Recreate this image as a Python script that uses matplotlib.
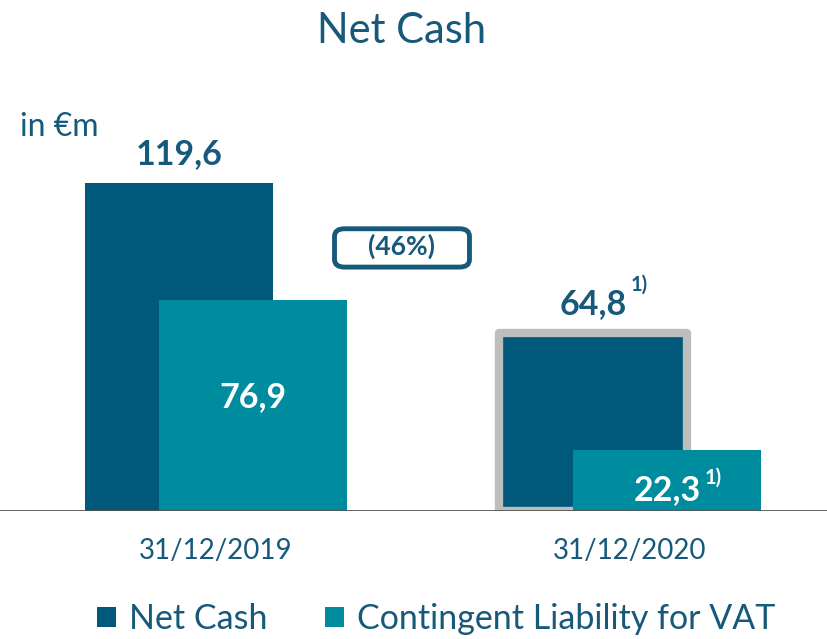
import matplotlib.pyplot as plt
from matplotlib.patches import FancyBboxPatch

plt.rcParams['font.family'] = ['Lato', 'DejaVu Sans']

# data
dates = ['31/12/2019', '31/12/2020']
net_cash = [119.6, 64.8]
vat_liability = [76.9, 22.3]
net_labels = ['119,6', '64,8']
vat_labels = ['76,9', '22,3']
footnote = ['', '1)']
change_label = '(46%)'

dark = '#00587A'
teal = '#008C9F'
text_col = '#17597A'

fig = plt.figure(figsize=(8.28, 6.39), dpi=100)
ax = fig.add_axes([0, 0.2003, 1, 0.6432])

x = [0, 1]
off = 0.0894
w = 0.454

bars1 = ax.bar([i - off for i in x], net_cash, width=w, color=dark, zorder=2,
               label='Net Cash')
bars2 = ax.bar([i + off for i in x], vat_liability, width=w, color=teal, zorder=3,
               label='Contingent Liability for VAT')
# gray frame on the 2020 net cash bar
bars1[1].set_edgecolor('#BDBDBD')
bars1[1].set_linewidth(6)
bars1[1].set_joinstyle('round')

ax.set_xlim(-0.5217, 1.478)
ax.set_ylim(0, 150)
ax.axis('off')
ax.axhline(0, color='#555555', lw=2, zorder=4)

# value labels
for i in x:
    t = ax.text(i - off, net_cash[i] + 7, net_labels[i], ha='center', va='baseline',
                fontsize=24.5, fontweight='bold', color=text_col)
    if footnote[i]:
        ax.annotate(footnote[i], xy=(1, 1), xycoords=t, xytext=(3, 10),
                    textcoords='offset points', ha='left', va='top',
                    fontsize=14.5, fontweight='bold', color=text_col)
for i in x:
    ypos = vat_liability[i] / 2 + 3 if i == 0 else 7.5
    t = ax.text(i + off, ypos, vat_labels[i], ha='center', va='center',
                fontsize=24.5, fontweight='bold', color='white', zorder=5)
    if footnote[i]:
        ax.annotate(footnote[i], xy=(1, 1), xycoords=t, xytext=(3, 5),
                    textcoords='offset points', ha='left', va='top', zorder=5,
                    fontsize=14.5, fontweight='bold', color='white')

# category labels
for i in x:
    ax.text(i, -14.7, dates[i], ha='center', va='center', fontsize=20,
            color=text_col, clip_on=False)

# change box
box = FancyBboxPatch((0.404, 0.582), 0.163, 0.060, transform=fig.transFigure,
                     boxstyle='round,pad=0,rounding_size=0.012',
                     facecolor='white', edgecolor=text_col, lw=3.5, zorder=6)
fig.patches.append(box)
fig.text(0.4855, 0.614, change_label, ha='center', va='center', fontsize=19,
         fontweight='bold', color=text_col, zorder=7)

fig.text(0.485, 0.951, 'Net Cash', ha='center', va='center', fontsize=30,
         color=text_col)
fig.text(0.024, 0.801, 'in €m', ha='left', va='center', fontsize=23,
         color=text_col)

fig.legend(handles=[bars1[0], bars2[0]], labels=['Net Cash', 'Contingent Liability for VAT'],
           loc='center', bbox_to_anchor=(0.527, 0.031), ncol=2, frameon=False,
           fontsize=24.5, handlelength=0.55, handleheight=0.55, handletextpad=0.38,
           columnspacing=1.7, labelcolor=text_col, borderaxespad=0)
# legend patches should not carry the gray frame
leg = fig.legends[0]
for h in leg.legend_handles:
    h.set_edgecolor('none')
    h.set_linewidth(0)

fig.savefig('out.png', dpi=100)
